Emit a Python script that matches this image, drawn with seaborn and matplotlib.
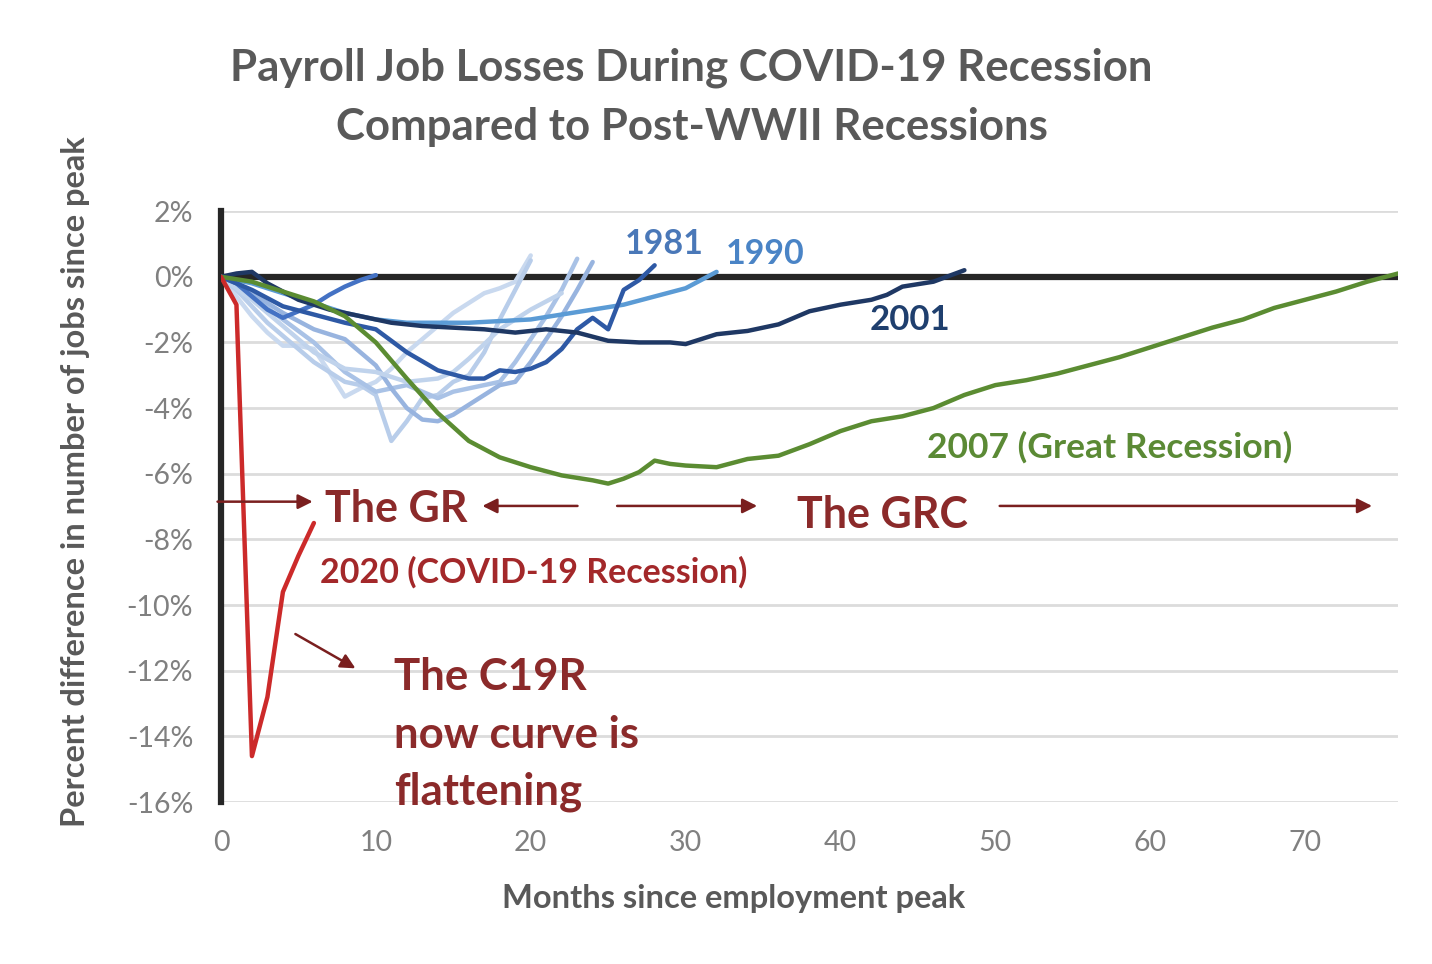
import matplotlib
matplotlib.use("Agg")
import matplotlib.pyplot as plt
import seaborn as sns
import pandas as pd

# ---------------- data ----------------
months_p1 = [0, 1, 2, 3, 4, 5, 6, 7, 8, 9, 10, 11, 12, 13, 14, 15, 16, 17, 18, 19, 20]
pct_p1 = [0, -0.6, -1.2, -1.7, -2.1, -2.1, -2.2, -2.9, -3.65, -3.4, -3.2, -2.8, -2.3, -1.9, -1.5, -1.1, -0.8, -0.5, -0.35, -0.15, 0.65]

months_p2 = [0, 1, 2, 3, 4, 5, 6, 7, 8, 9, 10, 11, 12, 13, 14, 15, 16, 17, 18, 19, 20]
pct_p2 = [0, -0.4, -0.9, -1.4, -1.8, -2.2, -2.6, -2.9, -3.2, -3.3, -3.6, -5.0, -4.4, -3.7, -3.6, -3.2, -3.0, -2.3, -1.3, -0.4, 0.5]

months_p3 = [0, 2, 4, 6, 8, 10, 11, 12, 13, 14, 15, 16, 17, 18, 19, 20, 21, 22, 23]
pct_p3 = [0, -0.6, -1.3, -2.0, -2.9, -3.5, -3.4, -3.3, -3.5, -3.7, -3.5, -3.4, -3.3, -3.2, -2.6, -1.9, -1.2, -0.4, 0.55]

months_p4 = [0, 2, 4, 6, 8, 10, 11, 12, 13, 14, 15, 16, 17, 18, 19, 20, 21, 22, 23, 24]
pct_p4 = [0, -0.5, -1.1, -1.6, -1.9, -2.7, -3.4, -4.0, -4.35, -4.4, -4.2, -3.9, -3.6, -3.3, -3.2, -2.6, -1.9, -1.2, -0.4, 0.45]

months_p5 = [0, 2, 4, 6, 8, 10, 12, 14, 15, 16, 18, 20, 22]
pct_p5 = [0, -0.7, -1.5, -2.3, -2.8, -2.9, -3.2, -3.1, -2.9, -2.5, -1.6, -1.0, -0.5]

months_1980 = [0, 1, 2, 3, 4, 5, 6, 7, 8, 9, 10]
pct_1980 = [0, -0.2, -0.6, -1.0, -1.25, -1.05, -0.85, -0.55, -0.3, -0.1, 0.05]

months_1981 = [0, 2, 4, 6, 8, 10, 12, 14, 16, 17, 18, 19, 20, 21, 22, 23, 24, 25, 26, 27, 28]
pct_1981 = [0, -0.4, -0.9, -1.15, -1.4, -1.6, -2.3, -2.85, -3.1, -3.1, -2.85, -2.9, -2.8, -2.6, -2.2, -1.6, -1.25, -1.6, -0.4, -0.1, 0.35]

months_1990 = [0, 2, 4, 6, 8, 10, 12, 14, 16, 18, 20, 22, 24, 26, 28, 30, 32]
pct_1990 = [0, -0.2, -0.5, -0.8, -1.1, -1.3, -1.4, -1.4, -1.4, -1.35, -1.3, -1.15, -1.0, -0.85, -0.6, -0.35, 0.15]

months_2001 = [0, 1, 2, 3, 5, 7, 9, 11, 13, 15, 17, 19, 21, 23, 25, 27, 29, 30, 32, 34, 36, 38, 40, 42, 43, 44, 46, 48]
pct_2001 = [0, 0.1, 0.15, -0.2, -0.7, -1.0, -1.2, -1.4, -1.5, -1.55, -1.6, -1.7, -1.6, -1.7, -1.95, -2.0, -2.0, -2.05, -1.75, -1.65, -1.45, -1.05, -0.85, -0.7, -0.55, -0.3, -0.15, 0.2]

months_2007 = [0, 2, 4, 6, 8, 10, 12, 14, 16, 18, 20, 22, 24, 25, 26, 27, 28, 29, 30, 32, 34, 36, 38, 40, 42, 44, 46, 48, 50, 52, 54, 56, 58, 60, 62, 64, 66, 68, 70, 72, 74, 76]
pct_2007 = [0, -0.15, -0.45, -0.75, -1.2, -2.0, -3.1, -4.15, -5.0, -5.5, -5.8, -6.05, -6.2, -6.3, -6.15, -5.95, -5.6, -5.7, -5.75, -5.8, -5.55, -5.45, -5.1, -4.7, -4.4, -4.25, -4.0, -3.6, -3.3, -3.15, -2.95, -2.7, -2.45, -2.15, -1.85, -1.55, -1.3, -0.95, -0.7, -0.45, -0.15, 0.1]

months_2020 = [0, 1, 2, 3, 4, 5, 6]
pct_2020 = [0, -0.85, -14.6, -12.8, -9.6, -8.5, -7.5]

recessions = ["p1", "p2", "p3", "p4", "p5", "1980", "1990", "1981", "2001", "2007", "2020"]
month_lists = [months_p1, months_p2, months_p3, months_p4, months_p5, months_1980,
               months_1990, months_1981, months_2001, months_2007, months_2020]
pct_lists = [pct_p1, pct_p2, pct_p3, pct_p4, pct_p5, pct_1980,
             pct_1990, pct_1981, pct_2001, pct_2007, pct_2020]

y_ticks = [2, 0, -2, -4, -6, -8, -10, -12, -14, -16]
x_ticks = [0, 10, 20, 30, 40, 50, 60, 70]

rows = []
for name, ms, ps in zip(recessions, month_lists, pct_lists):
    for m, p in zip(ms, ps):
        rows.append({"recession": name, "month": m, "pct": p})
df = pd.DataFrame(rows)

palette = {
    "p1": "#c9d9ef", "p2": "#b8cdea", "p3": "#a9c2e6", "p4": "#98b4df", "p5": "#c0d3ec",
    "1980": "#4472c4", "1990": "#5b9bd5", "1981": "#2e59a5", "2001": "#1f3864",
    "2007": "#5b8c32", "2020": "#cc2a2a",
}

# ---------------- plotting ----------------
sns.set_style("white")
plt.rcParams["font.family"] = ["Lato", "DejaVu Sans"]

fig = plt.figure(figsize=(14.32, 9.64), dpi=100)
ax = fig.add_axes([0.1543, 0.168, 0.8220, 0.613])

sns.lineplot(data=df, x="month", y="pct", hue="recession", hue_order=recessions,
             palette=palette, estimator=None, sort=False, linewidth=3.2,
             legend=False, ax=ax, zorder=3)

ax.set_xlim(0, 76)
ax.set_ylim(-16, 2)
ax.set_yticks(y_ticks)
ax.set_yticklabels([f"{v}%" for v in y_ticks])
ax.set_xticks(x_ticks)
ax.set_xticklabels([str(v) for v in x_ticks])
ax.yaxis.grid(True, color="#dcdcdc", linewidth=2)
ax.xaxis.grid(False)
ax.set_axisbelow(True)
ax.axhline(0, color="#262626", linewidth=4.5, zorder=2)
for s in ["top", "right", "bottom"]:
    ax.spines[s].set_visible(False)
ax.spines["left"].set_color("#262626")
ax.spines["left"].set_linewidth(4.5)
ax.tick_params(length=0, pad=20, labelsize=20.5, labelcolor="#808080")
ax.set_xlabel("")
ax.set_ylabel("")

# titles and axis labels
fig.text(0.483, 0.917, "Payroll Job Losses During COVID-19 Recession", ha="center", va="baseline",
         fontsize=31.5, fontweight="bold", color="#595959")
fig.text(0.483, 0.855, "Compared to Post-WWII Recessions", ha="center", va="baseline",
         fontsize=31.5, fontweight="bold", color="#595959")
fig.text(0.053, 0.50, "Percent difference in number of jobs since peak", rotation=90,
         ha="center", va="center", fontsize=23.5, fontweight="bold", color="#595959")
fig.text(0.512, 0.068, "Months since employment peak", ha="center", va="center",
         fontsize=23.5, fontweight="bold", color="#595959")

# series labels
ax.text(26.1, 0.70, "1981", color="#4a78b8", fontsize=24.5, fontweight="bold", va="baseline")
ax.text(32.6, 0.40, "1990", color="#4a84c6", fontsize=24.5, fontweight="bold", va="baseline")
ax.text(41.9, -1.61, "2001", color="#1f3f6e", fontsize=25, fontweight="bold", va="baseline")
ax.text(45.6, -5.51, "2007 (Great Recession)", color="#5b8a35", fontsize=25.5, fontweight="bold", va="baseline")
ax.text(6.4, -9.32, "2020 (COVID-19 Recession)", color="#a3282a", fontsize=24.5, fontweight="bold", va="baseline")

# annotations
ann_color = "#8b2a2a"
arrow = dict(arrowstyle="-|>", color="#7a1f1f", lw=1.8, mutation_scale=22)
ax.annotate("", xy=(6.1, -6.85), xytext=(-0.4, -6.85), arrowprops=arrow, annotation_clip=False)
ax.text(6.7, -7.46, "The GR", color=ann_color, fontsize=31, fontweight="bold", va="baseline")
ax.annotate("", xy=(16.7, -6.98), xytext=(23.2, -6.98), arrowprops=arrow)
ax.annotate("", xy=(34.8, -6.98), xytext=(25.4, -6.98), arrowprops=arrow)
ax.text(37.2, -7.65, "The GRC", color=ann_color, fontsize=31, fontweight="bold", va="baseline")
ax.annotate("", xy=(74.5, -6.98), xytext=(50.1, -6.98), arrowprops=arrow)
ax.annotate("", xy=(8.84, -11.97), xytext=(4.65, -10.84), arrowprops=arrow)
ax.text(11.2, -12.58, "The C19R", color=ann_color, fontsize=31.5, fontweight="bold", va="baseline")
ax.text(11.2, -14.35, "now curve is", color=ann_color, fontsize=31.5, fontweight="bold", va="baseline")
ax.text(11.2, -16.08, "flattening", color=ann_color, fontsize=31.5, fontweight="bold", va="baseline")

fig.savefig("out.png", dpi=100, facecolor="white")
